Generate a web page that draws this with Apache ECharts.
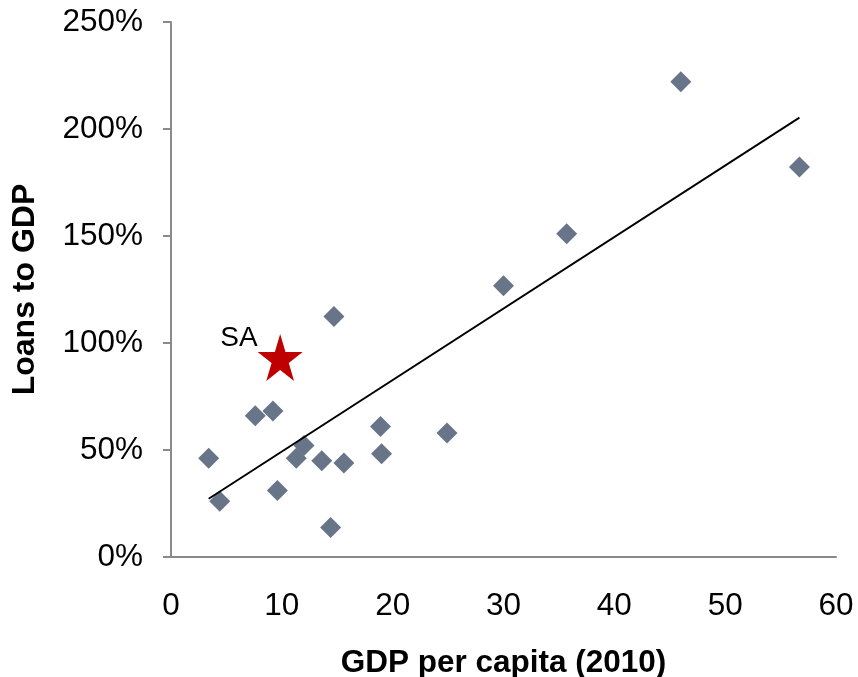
<!DOCTYPE html>
<html>
<head>
<meta charset="utf-8">
<script src="https://cdn.jsdelivr.net/npm/echarts@6/dist/echarts.min.js"></script>
<style>
  html, body { margin: 0; padding: 0; background: #fff; }
  #chart { width: 858px; height: 677px; }
</style>
</head>
<body>
<div id="chart"></div>
<script>
// GDP per capita (2010) vs. loans-to-GDP ratio (%) by country
const gdpPerCapita = [3.4, 4.4, 7.6, 9.2, 9.6, 11.3, 12.0, 13.6, 14.4, 14.7, 15.6, 18.9, 19.0, 24.9, 30.0, 35.7, 46.0, 56.7];
const loansToGdp   = [46.2, 26.0, 66.0, 68.2, 31.1, 46.2, 52.1, 45.0, 13.8, 112.4, 43.9, 61.0, 48.2, 57.9, 126.7, 151.1, 222.1, 182.3];

// Highlighted country
const saName = 'SA';
const saPoint = [9.85, 93.2];

// Axis ticks
const xTicks = { min: 0, max: 60, step: 10 };
const yTicks = { min: 0, max: 250, step: 50 };

// Least-squares trend line over all countries, SA included
function linearFit(xs, ys) {
  const n = xs.length;
  const mx = xs.reduce((a, b) => a + b, 0) / n;
  const my = ys.reduce((a, b) => a + b, 0) / n;
  let sxy = 0, sxx = 0;
  for (let i = 0; i < n; i++) {
    sxy += (xs[i] - mx) * (ys[i] - my);
    sxx += (xs[i] - mx) * (xs[i] - mx);
  }
  const slope = sxy / sxx;
  return { slope, intercept: my - slope * mx };
}
const allX = gdpPerCapita.concat([saPoint[0]]);
const allY = loansToGdp.concat([saPoint[1]]);
const fit = linearFit(allX, allY);
const xLo = Math.min(...allX), xHi = Math.max(...allX);
const trend = [[xLo, fit.intercept + fit.slope * xLo], [xHi, fit.intercept + fit.slope * xHi]];

// Five-pointed star outline
function starPath() {
  const pts = [];
  for (let i = 0; i < 10; i++) {
    const r = i % 2 === 0 ? 50 : 19.1;
    const a = -Math.PI / 2 + i * Math.PI / 5;
    pts.push((50 + r * Math.cos(a)).toFixed(2) + ',' + (50 + r * Math.sin(a)).toFixed(2));
  }
  return 'path://M' + pts.join(' L') + ' Z';
}

const FONT = '"Liberation Sans", Arial, sans-serif';
const axisGray = '#8a8a8a';

const chart = echarts.init(document.getElementById('chart'), null, { renderer: 'canvas' });
chart.setOption({
  animation: false,
  backgroundColor: '#ffffff',
  grid: { left: 171, right: 22, top: 22, bottom: 120, containLabel: false, outerBoundsMode: 'none' },
  xAxis: {
    type: 'value',
    min: xTicks.min, max: xTicks.max, interval: xTicks.step,
    name: 'GDP per capita (2010)',
    nameLocation: 'middle',
    nameGap: 90,
    nameTextStyle: { fontFamily: FONT, fontSize: 31.5, fontWeight: 'bold', color: '#000' },
    axisLine: { show: true, lineStyle: { color: axisGray, width: 2 } },
    axisTick: { show: false },
    splitLine: { show: false },
    axisLabel: { fontFamily: FONT, fontSize: 31.5, color: '#000', margin: 33 }
  },
  yAxis: {
    type: 'value',
    min: yTicks.min, max: yTicks.max, interval: yTicks.step,
    name: 'Loans to GDP',
    nameLocation: 'middle',
    nameGap: 130,
    nameTextStyle: { fontFamily: FONT, fontSize: 32, fontWeight: 'bold', color: '#000' },
    axisLine: { show: true, lineStyle: { color: axisGray, width: 2 } },
    axisTick: { show: true, inside: false, length: 8, lineStyle: { color: axisGray, width: 2 } },
    splitLine: { show: false },
    axisLabel: { fontFamily: FONT, fontSize: 31.5, color: '#000', margin: 28, formatter: '{value}%' }
  },
  series: [
    {
      type: 'scatter',
      data: gdpPerCapita.map((x, i) => [x, loansToGdp[i]]),
      symbol: 'diamond',
      symbolSize: 21,
      itemStyle: { color: '#687588', opacity: 1 },
      z: 2
    },
    {
      type: 'line',
      data: trend,
      showSymbol: false,
      symbol: 'none',
      lineStyle: { color: '#000', width: 1.9 },
      silent: true,
      z: 3
    },
    {
      type: 'scatter',
      data: [{ value: saPoint, name: saName }],
      symbol: starPath(),
      symbolSize: [45, 47],
      itemStyle: { color: '#c00000', opacity: 1 },
      label: {
        show: true,
        position: 'left',
        distance: 0,
        offset: [0, -19],
        formatter: '{b}',
        fontFamily: FONT,
        fontSize: 28,
        color: '#000',
        opacity: 1
      },
      z: 4
    }
  ]
});
</script>
</body>
</html>
